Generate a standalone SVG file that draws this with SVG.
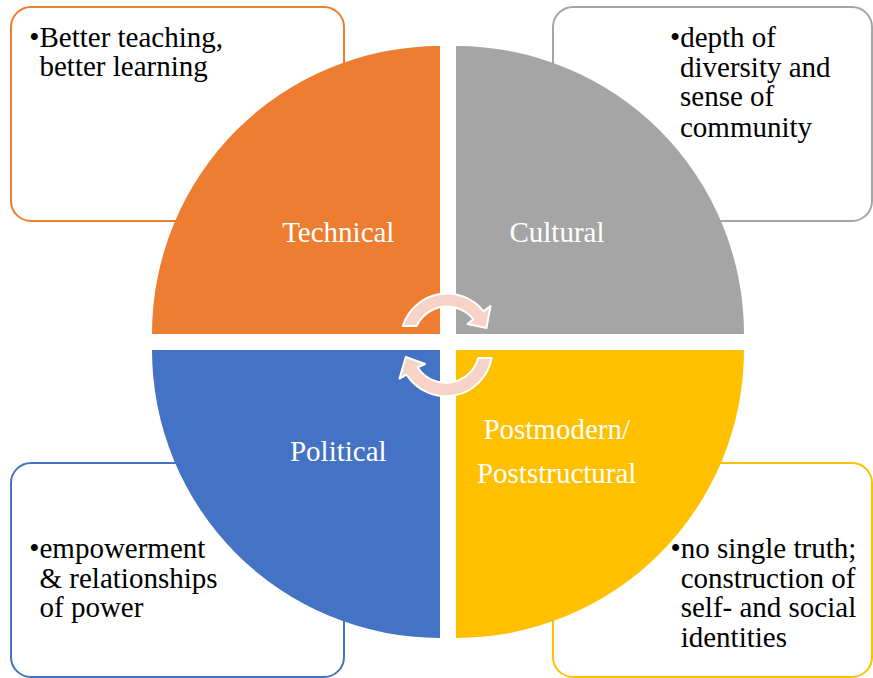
<svg xmlns="http://www.w3.org/2000/svg" width="873" height="678" viewBox="0 0 873 678">
<style>
.box{fill:#FFFFFF;stroke-width:2}
text{font-family:"Liberation Serif","Times New Roman",serif;font-size:29px}
.bt{fill:#000000}
.lbl{fill:#FFFFFF;text-anchor:middle}
.arr{fill:#F6D3C6;stroke:#FFFFFF;stroke-width:2;stroke-linejoin:round}
</style>
<rect width="873" height="678" fill="#FFFFFF"/>
<g id="box-technical">
<rect class="box" x="11" y="7" width="333" height="214" rx="20" stroke="#ED7D31"/>
<text class="bt" x="29.3" y="46.7">•Better teaching,</text>
<text class="bt" x="39.5" y="76">better learning</text>
</g>
<g id="box-cultural">
<rect class="box" x="553" y="7" width="319" height="214" rx="20" stroke="#A5A5A5"/>
<text class="bt" x="670" y="46.7">•depth of</text>
<text class="bt" x="680" y="76.5">diversity and</text>
<text class="bt" x="680" y="106.4">sense of</text>
<text class="bt" x="680" y="136.5">community</text>
</g>
<g id="box-political">
<rect class="box" x="11" y="463" width="333" height="214" rx="20" stroke="#4472C4"/>
<text class="bt" x="29.3" y="558.3">•empowerment</text>
<text class="bt" x="39.5" y="587.5">&amp; relationships</text>
<text class="bt" x="39.5" y="616.8">of power</text>
</g>
<g id="box-postmodern">
<rect class="box" x="553" y="463" width="319" height="214" rx="20" stroke="#FFC000"/>
<text class="bt" x="670.5" y="558.3">•no single truth;</text>
<text class="bt" x="680.7" y="587.7">construction of</text>
<text class="bt" x="680.7" y="616.9">self- and social</text>
<text class="bt" x="680.7" y="646.6">identities</text>
</g>
<g id="technical">
<path d="M440,334 L152,334 A288,288 0 0 1 440,46 Z" fill="#ED7D31"/>
<text class="lbl" x="338.3" y="241.7">Technical</text>
</g>
<g id="cultural">
<path d="M456,334 L456,46 A288,288 0 0 1 744,334 Z" fill="#A5A5A5"/>
<text class="lbl" x="557" y="241.7">Cultural</text>
</g>
<g id="postmodern">
<path d="M456,350 L744,350 A288,288 0 0 1 456,638 Z" fill="#FFC000"/>
<text class="lbl" x="556.7" y="439.3">Postmodern/</text>
<text class="lbl" x="556.7" y="482.7">Poststructural</text>
</g>
<g id="political">
<path d="M440,350 L440,638 A288,288 0 0 1 152,350 Z" fill="#4472C4"/>
<text class="lbl" x="338.3" y="460.7">Political</text>
</g>
<g id="connectors">
<path class="arr" d="M402.7,326 A46.5,46.5 0 0 1 483.6,311.4 L490.5,306 L486.5,328 L467.5,324 L473.4,319.4 A33.5,33.5 0 0 0 416.6,326 Z"/>
<path class="arr" d="M491.6,358 A46.5,46.5 0 0 1 406.6,374.6 L399.5,378.5 L405.8,357 L425,364 L417.6,367.3 A33.5,33.5 0 0 0 478.3,358 Z"/>
</g>
</svg>
